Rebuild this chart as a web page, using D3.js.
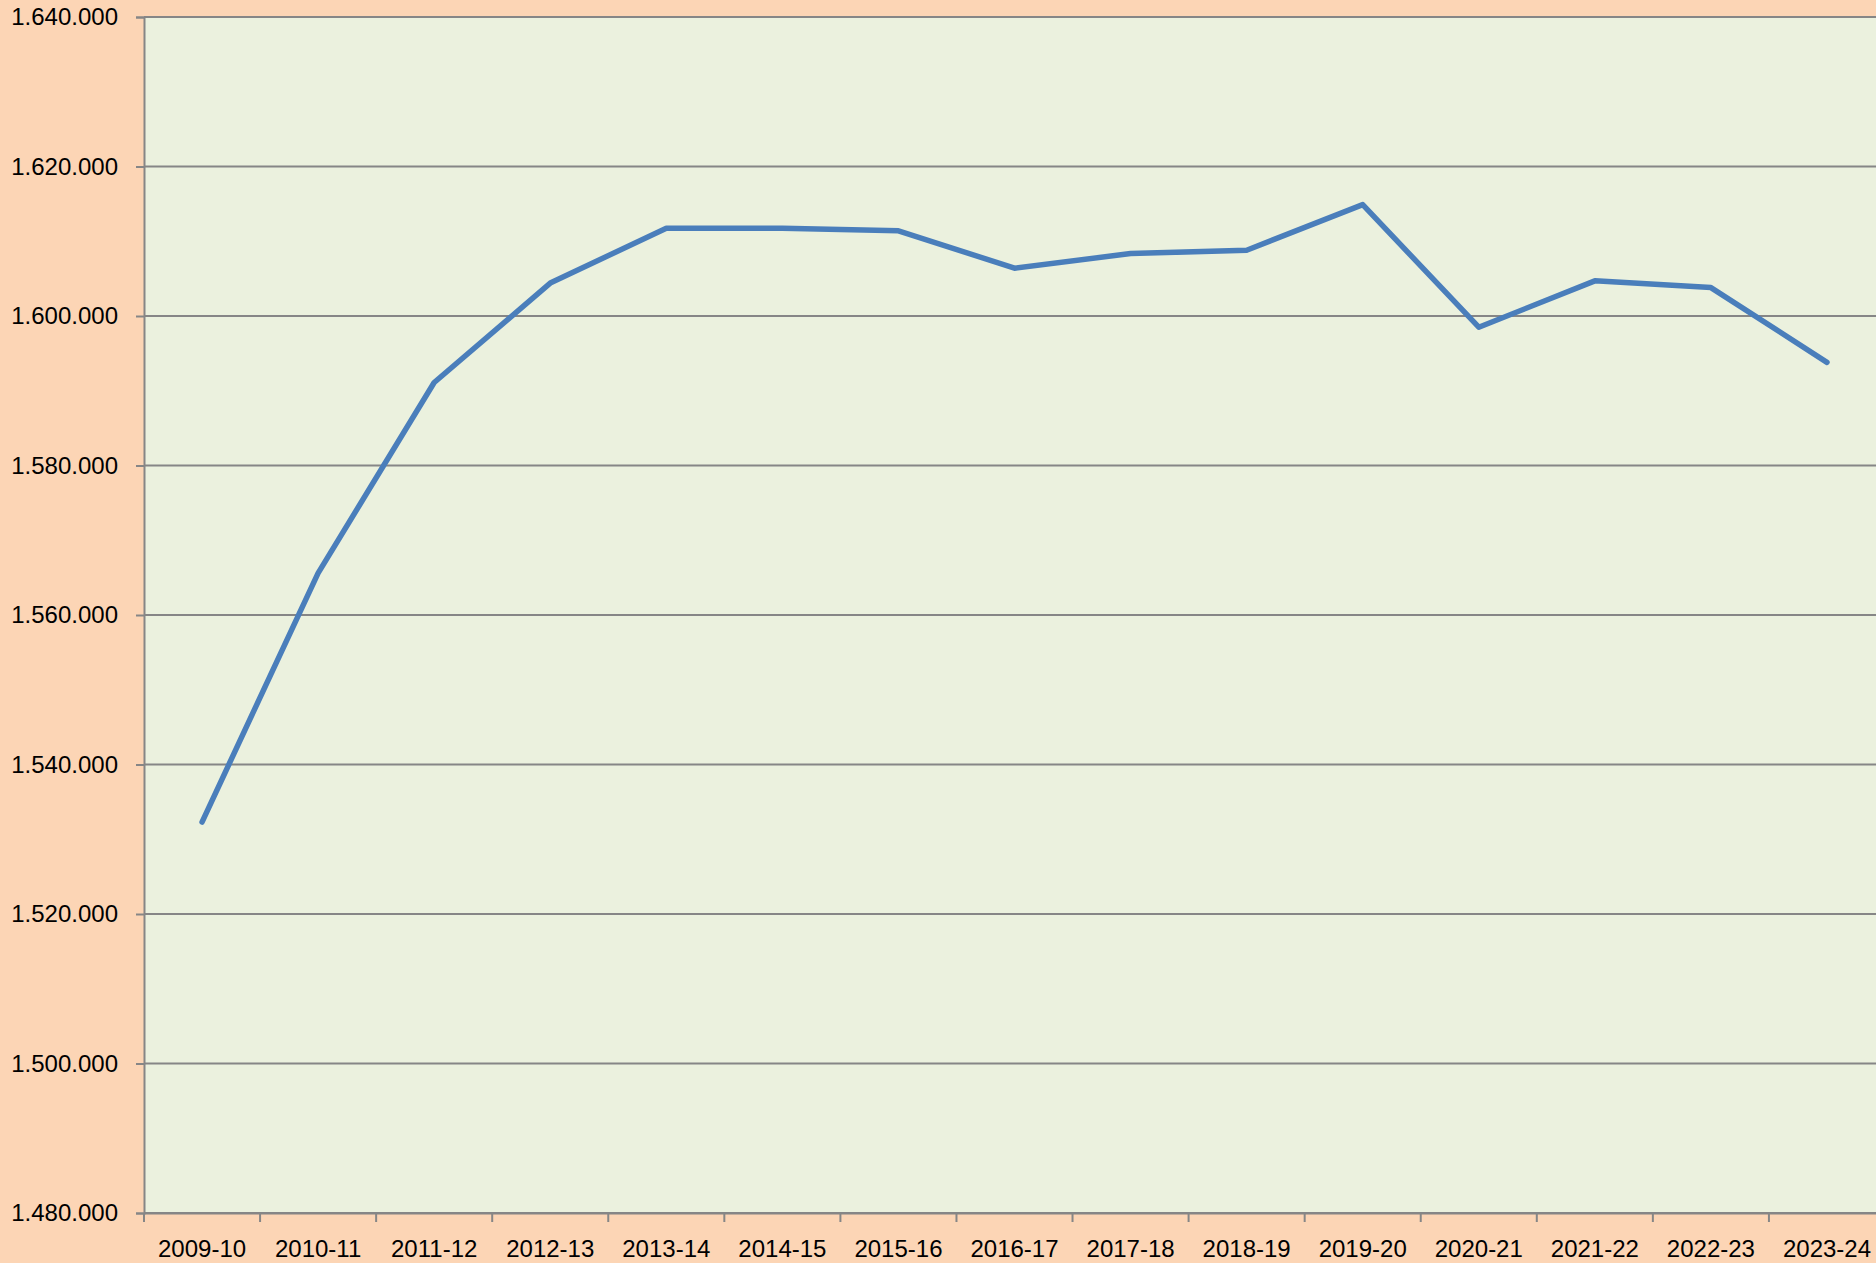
<!DOCTYPE html>
<html>
<head>
<meta charset="utf-8">
<script src="https://cdn.jsdelivr.net/npm/d3@7"></script>
<style>
	html, body { margin: 0; padding: 0; overflow: hidden; background: #FCD5B5; }
	.tick text { font-family: "Liberation Sans", Arial, sans-serif; fill: #000; }
</style>
</head>
<body>
<div id="chart-area"></div>
<script>
// Dane
var years = ["2009-10", "2010-11", "2011-12", "2012-13", "2013-14", "2014-15", "2015-16",
	"2016-17", "2017-18", "2018-19", "2019-20", "2020-21", "2021-22", "2022-23", "2023-24"];
var values = [1532300, 1565600, 1591100, 1604400, 1611750, 1611750, 1611400,
	1606400, 1608350, 1608800, 1614900, 1598500, 1604700, 1603800, 1593800];
var yTicks = [1480000, 1500000, 1520000, 1540000, 1560000, 1580000, 1600000, 1620000, 1640000];

// Obszar wykresu
var W = 1876, H = 1263;
var margin = { left: 144, top: 17 };
var width = 1741;   // plot runs past the right edge, like the original
var height = 1196;

var svg = d3.select("#chart-area")
	.append("svg")
	.attr("width", W)
	.attr("height", H)
	.style("display", "block");

svg.append("rect")
	.attr("width", W)
	.attr("height", H)
	.attr("fill", "#FCD5B5");

var g = svg.append("g")
	.attr("transform", "translate(" + margin.left + "," + margin.top + ")");

g.append("rect")
	.attr("width", width)
	.attr("height", height)
	.attr("fill", "#EBF1DE");

//Skale
var x = d3.scaleBand()
	.domain(years)
	.range([0, width]);

var y = d3.scaleLinear()
	.domain([1480000, 1640000])
	.range([height, 0]);

var fmt = d3.formatLocale({ decimal: ",", thousands: ".", grouping: [3], currency: ["", ""] }).format(",");

// Siatka + os Y
var yAxis = g.append("g")
	.attr("class", "y-axis")
	.call(d3.axisLeft(y)
		.tickValues(yTicks)
		.tickSize(8)
		.tickPadding(18)
		.tickFormat(fmt));
yAxis.select(".domain").attr("stroke", "#868686").attr("stroke-width", 2);
yAxis.selectAll(".tick line").attr("stroke", "#868686").attr("stroke-width", 2);
yAxis.selectAll(".tick text").attr("font-size", "24px");

g.append("g")
	.attr("class", "grid")
	.selectAll("line")
	.data(yTicks)
	.enter()
	.append("line")
		.attr("x1", 0)
		.attr("x2", width)
		.attr("y1", d => y(d))
		.attr("y2", d => y(d))
		.attr("stroke", "#868686")
		.attr("stroke-width", 2);

// Os X
var xAxis = g.append("g")
	.attr("class", "x-axis")
	.attr("transform", "translate(0," + height + ")")
	.call(d3.axisBottom(x).tickSize(0).tickPadding(27));
xAxis.select(".domain").attr("stroke", "#868686").attr("stroke-width", 2);
xAxis.selectAll(".tick text").attr("font-size", "24px");

// tick marks between categories
xAxis.selectAll(".sep")
	.data(d3.range(years.length + 1))
	.enter()
	.append("line")
		.attr("x1", i => i * x.step())
		.attr("x2", i => i * x.step())
		.attr("y1", 0)
		.attr("y2", 9)
		.attr("stroke", "#868686")
		.attr("stroke-width", 2);

// Linia
var line = d3.line()
	.x((d, i) => x(years[i]) + x.bandwidth() / 2)
	.y(d => y(d));

g.append("path")
	.datum(values)
	.attr("d", line)
	.attr("fill", "none")
	.attr("stroke", "#4A7EBB")
	.attr("stroke-width", 5.5)
	.attr("stroke-linejoin", "round")
	.attr("stroke-linecap", "round");
</script>
</body>
</html>
